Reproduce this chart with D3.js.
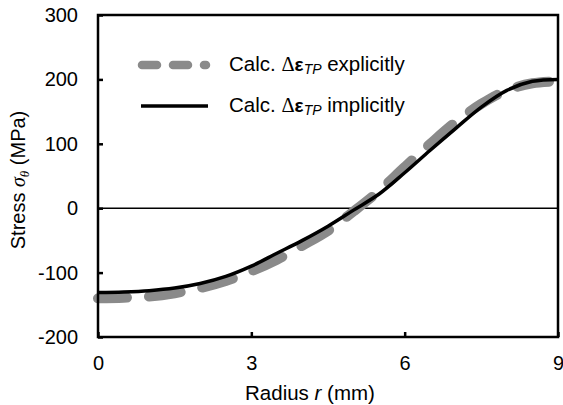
<!DOCTYPE html>
<html><head><meta charset="utf-8">
<script src="https://cdn.jsdelivr.net/npm/d3@7"></script>
<style>body{margin:0;background:#fff}svg{display:block}text{font-family:"Liberation Sans",Arial,sans-serif;fill:#000}</style>
</head><body>
<script>
const radius = [0,0.5,1,1.5,2,2.5,3,3.5,4,4.5,5,5.5,6,6.5,7,7.5,8,8.5,9];
const explicitStress = [-140,-139,-137,-132,-124,-113,-98,-80,-58,-35,-5,27,64,100,134,162,183,194,197];
const implicitStress = [-131,-130,-128,-124,-117,-106,-90,-70,-50,-28,-3,22,55,90,124,157,183,197,200];
const xTicks = [0,3,6,9];
const yTicks = [-200,-100,0,100,200,300];
const seriesNames = ["explicitly","implicitly"];

const W=563,H=405, L=98, R=558, T=15, B=337;
const svg=d3.select("body").append("svg").attr("width",W).attr("height",H);
const x=d3.scaleLinear().domain([0,9]).range([L,R]);
const y=d3.scaleLinear().domain([-200,300]).range([B,T]);

// zero line
svg.append("line").attr("x1",L).attr("x2",R).attr("y1",y(0)).attr("y2",y(0)).attr("stroke","#000").attr("stroke-width",1.5);

const line=d3.line().curve(d3.curveCatmullRom);
svg.append("path").attr("d",line(radius.map((r,i)=>[x(r),y(explicitStress[i])])))
  .attr("fill","none").attr("stroke","#8a8a8a").attr("stroke-width",10)
  .attr("stroke-linecap","round").attr("stroke-dasharray","32,22").attr("stroke-dashoffset",3);
svg.append("path").attr("d",line(radius.map((r,i)=>[x(r),y(implicitStress[i])])))
  .attr("fill","none").attr("stroke","#000").attr("stroke-width",3.5);

// axes
const fmt=d=>String(d);
const ya=svg.append("g").attr("transform",`translate(${L},0)`)
  .call(d3.axisLeft(y).tickValues(yTicks).tickSize(-5).tickPadding(20).tickFormat(fmt));
const xa=svg.append("g").attr("transform",`translate(0,${B})`)
  .call(d3.axisBottom(x).tickValues(xTicks).tickSize(-5).tickPadding(19).tickFormat(fmt));
[ya,xa].forEach(g=>{g.select(".domain").remove();g.selectAll("line").attr("stroke","#000").attr("stroke-width",2.5);
  g.selectAll("text").style("font-size","20px").attr("fill","#000");});
svg.append("rect").attr("x",L).attr("y",T).attr("width",R-L).attr("height",B-T)
  .attr("fill","none").attr("stroke","#000").attr("stroke-width",2.5);

// axis titles
const xt=svg.append("text").attr("x",310).attr("y",400).attr("text-anchor","middle").style("font-size","20.5px");
xt.append("tspan").text("Radius ");
xt.append("tspan").attr("font-style","italic").text("r");
xt.append("tspan").text(" (mm)");
const yt=svg.append("text").attr("transform",`translate(25,180) rotate(-90)`).attr("text-anchor","middle").style("font-size","20px");
yt.append("tspan").text("Stress ");
yt.append("tspan").attr("font-style","italic").style("font-family","'Liberation Serif',serif").text("σ");
yt.append("tspan").attr("font-style","italic").style("font-family","'Liberation Serif',serif").attr("dy",4).style("font-size","13px").text("θ");
yt.append("tspan").attr("dy",-4).text(" (MPa)");

// legend
const leg=[{y:65,name:seriesNames[0],dash:true},{y:106,name:seriesNames[1],dash:false}];
leg.forEach(d=>{
  const l=svg.append("line").attr("x1",d.dash?142:141).attr("x2",d.dash?206:208).attr("y1",d.y).attr("y2",d.y);
  if(d.dash) l.attr("stroke","#8a8a8a").attr("stroke-width",8.5).attr("stroke-linecap","round").attr("stroke-dasharray","15,16");
  else l.attr("stroke","#000").attr("stroke-width",3.5);
  const t=svg.append("text").attr("x",229).attr("y",d.y+6).style("font-size","20.5px");
  t.append("tspan").text("Calc. ");
  t.append("tspan").text("Δ").style("font-family","'Liberation Serif',serif");
  t.append("tspan").text("ε").style("font-weight","bold").style("font-size","19px");
  t.append("tspan").attr("font-style","italic").style("font-size","14px").attr("dy",3).text("TP");
  t.append("tspan").attr("dy",-3).text(d.dash?" explicitly":" "+d.name);
});
</script>
</body></html>
